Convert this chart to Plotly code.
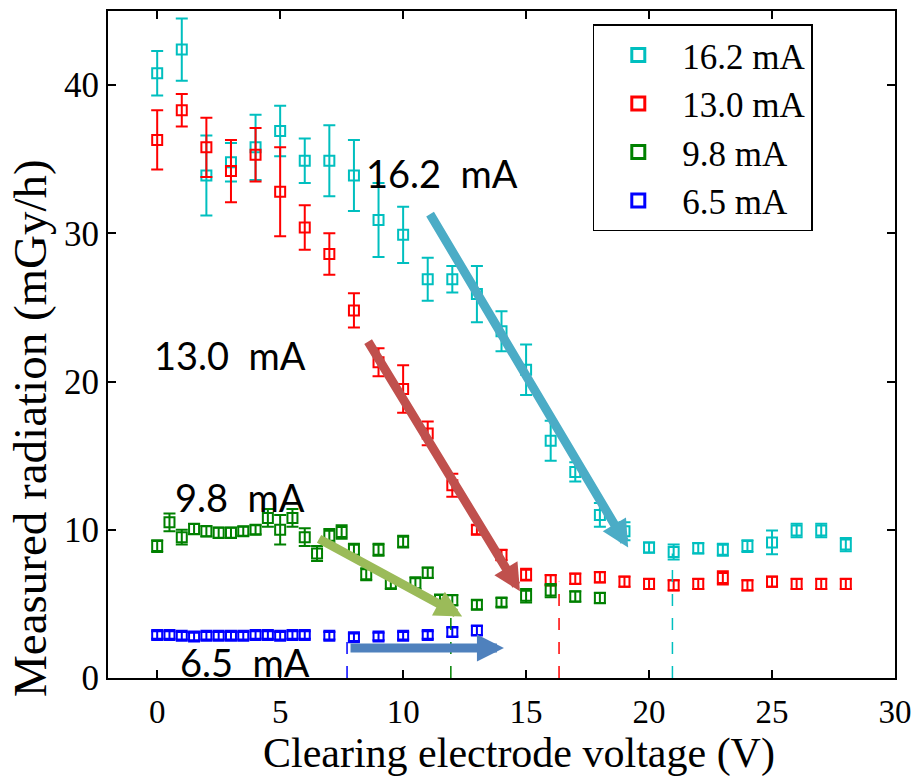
import plotly.graph_objects as go

# Clearing electrode voltage (V), measured radiation (mGy/h) and its uncertainty per beam current
v_162 = list(range(0, 29))
r_162 = [40.8, 42.4, 33.9, 34.8, 35.8, 36.9, 34.9, 34.9, 33.9, 30.9, 29.9, 26.9, 26.9, 25.9, 23.4,
         20.8, 16.0, 13.9, 11.0, 9.9, 8.8, 8.5, 8.75, 8.65, 8.9, 9.15, 9.95, 9.95, 9.0]
e_162 = [1.5, 2.1, 2.7, 1.3, 2.2, 1.7, 1.5, 2.4, 2.4, 2.5, 1.9, 1.45, 0.9, 1.9, 1.35,
         1.7, 1.35, 0.65, 0.8, 0.6, 0.35, 0.5, 0.35, 0.4, 0.4, 0.8, 0.45, 0.45, 0.45]

v_130 = list(range(0, 29))
r_130 = [36.3, 38.3, 35.8, 34.2, 35.3, 32.8, 30.4, 28.6, 24.8, 21.3, 19.5, 16.5, 13.0, 10.0, 8.3,
         6.97, 6.6, 6.7, 6.8, 6.5, 6.35, 6.25, 6.35, 6.75, 6.25, 6.5, 6.35, 6.35, 6.35]
e_130 = [2.0, 1.1, 2.0, 2.1, 1.8, 3.0, 1.5, 1.4, 1.15, 0.95, 1.6, 0.8, 0.78, 0.3, 0.35,
         0.4, 0.35, 0.35, 0.35, 0.35, 0.35, 0.35, 0.35, 0.45, 0.35, 0.35, 0.35, 0.35, 0.35]

v_98 = [0, 0.5, 1, 1.5, 2, 2.5, 3, 3.5, 4, 4.5, 5, 5.5, 6, 6.5, 7, 7.5, 8, 8.5, 9, 9.5,
        10, 10.5, 11, 11.5, 12, 13, 14, 15, 16, 17, 18]
r_98 = [8.9, 10.5, 9.5, 10.05, 9.9, 9.8, 9.8, 9.9, 10.0, 10.8, 10.0, 10.8, 9.5, 8.4, 9.6, 9.85,
        8.65, 7.0, 8.65, 6.4, 9.2, 6.4, 7.1, 5.3, 5.25, 4.94, 5.1, 5.55, 5.9, 5.5, 5.4]
e_98 = [0.4, 0.6, 0.5, 0.35, 0.35, 0.35, 0.35, 0.3, 0.3, 0.6, 1.0, 0.6, 0.6, 0.5, 0.45, 0.45,
        0.4, 0.4, 0.4, 0.4, 0.4, 0.4, 0.35, 0.3, 0.35, 0.3, 0.3, 0.45, 0.45, 0.35, 0.35]

v_65 = [0, 0.5, 1, 1.5, 2, 2.5, 3, 3.5, 4, 4.5, 5, 5.5, 6, 7, 8, 9, 10, 11, 12, 13]
r_65 = [2.9, 2.9, 2.85, 2.8, 2.85, 2.85, 2.85, 2.85, 2.9, 2.9, 2.85, 2.9, 2.9, 2.85, 2.75,
        2.8, 2.85, 2.9, 3.1, 3.2]
e_65 = [0.25, 0.25, 0.25, 0.25, 0.25, 0.25, 0.25, 0.25, 0.25, 0.25, 0.25, 0.25, 0.25, 0.25,
        0.25, 0.25, 0.25, 0.25, 0.3, 0.3]

currents = ["16.2 mA", "13.0 mA", "9.8 mA", "6.5 mA"]
colors = ["#00BFBF", "#FF0000", "#008000", "#0000FF"]

# Voltage at which the radiation settles, and the level reached there
threshold_v = [20.95, 16.34, 11.94, 7.72]
threshold_top = [8.4, 6.5, 5.0, 2.8]

x_ticks = [0, 5, 10, 15, 20, 25, 30]
y_ticks = [0, 10, 20, 30, 40]
x_title = "Clearing electrode voltage (V)"
y_title = "Measured radiation (mGy/h)"

series = [(v_162, r_162, e_162), (v_130, r_130, e_130), (v_98, r_98, e_98), (v_65, r_65, e_65)]

SERIF = "Liberation Serif, Times New Roman, serif"
SANS = "Lato, Open Sans, sans-serif"

fig = go.Figure()

for (vx, ry, ey), col in zip(series, colors):
    fig.add_trace(go.Scatter(
        x=vx, y=ry, mode="markers", showlegend=False,
        marker=dict(symbol="square-open", size=10, color=col, line=dict(width=2, color=col)),
        error_y=dict(type="data", array=ey, visible=True, color=col, thickness=2, width=6),
    ))

for tv, tt, col in zip(threshold_v, threshold_top, colors):
    fig.add_trace(go.Scatter(
        x=[tv, tv], y=[0, tt], mode="lines", showlegend=False,
        line=dict(color=col, width=1.5, dash="12px,12px"),
    ))

# legend entries
for name, col in zip(currents, colors):
    fig.add_trace(go.Scatter(
        x=[None], y=[None], mode="markers", name=name,
        marker=dict(symbol="square-open", size=13, color=col, line=dict(width=3, color=col)),
    ))

# current labels written next to each curve
label_text = ["16.2\u00a0\u00a0mA", "13.0\u00a0\u00a0mA", "9.8\u00a0\u00a0mA", "6.5\u00a0\u00a0mA"]
label_xy = [(11.59, 34.1), (2.97, 21.8), (3.37, 12.2), (3.58, 1.1)]
for txt, (lx, ly) in zip(label_text, label_xy):
    fig.add_annotation(x=lx, y=ly, xref="x", yref="y", text=txt, showarrow=False,
                       font=dict(family=SANS, size=38, color="black"))

# trend arrows: (tail x, tail y, tip x, tip y)
arrow_cols = ["#4BACC6", "#C0504D", "#9BBB59", "#4F81BD"]
arrows = [(11.06, 31.4, 19.15, 8.8), (8.54, 22.8, 14.75, 5.85),
          (6.52, 9.44, 12.4, 4.15), (7.8, 2.02, 14.1, 2.02)]
for (ax0, ay0, x1, y1), col in zip(arrows, arrow_cols):
    fig.add_annotation(x=x1, y=y1, ax=ax0, ay=ay0, xref="x", yref="y", axref="x", ayref="y",
                       text="", showarrow=True, arrowhead=2, arrowsize=0.6, arrowwidth=9,
                       arrowcolor=col)

# axis titles
fig.add_annotation(x=0.522, y=-0.113, xref="paper", yref="paper", text=x_title,
                   showarrow=False, xanchor="center", yanchor="middle",
                   font=dict(family=SERIF, size=42, color="black"))
fig.add_annotation(x=-0.099, y=0.375, xref="paper", yref="paper", text=y_title,
                   showarrow=False, xanchor="center", yanchor="middle", textangle=-90,
                   font=dict(family=SERIF, size=47, color="black"))

axis_common = dict(
    showline=True, linecolor="black", linewidth=2, mirror="ticks",
    ticks="inside", ticklen=8, tickwidth=1.5, tickcolor="black",
    showgrid=False, zeroline=False, automargin=False,
)

fig.update_layout(
    width=921, height=779,
    margin=dict(l=108, r=26, t=11, b=101),
    paper_bgcolor="white", plot_bgcolor="white",
    xaxis=dict(range=[-2, 30], tickvals=x_ticks, ticklabelstandoff=3,
               tickfont=dict(family=SERIF, size=33, color="black"), **axis_common),
    yaxis=dict(range=[0, 45], tickvals=y_ticks,
               tickfont=dict(family=SERIF, size=35, color="black"), **axis_common),
    legend=dict(x=0.616, y=0.98, xanchor="left", yanchor="top",
                bgcolor="white", bordercolor="black", borderwidth=1.5,
                font=dict(family=SERIF, size=35, color="black"),
                itemwidth=78, tracegroupgap=0),
)

fig.write_html("out.html")
